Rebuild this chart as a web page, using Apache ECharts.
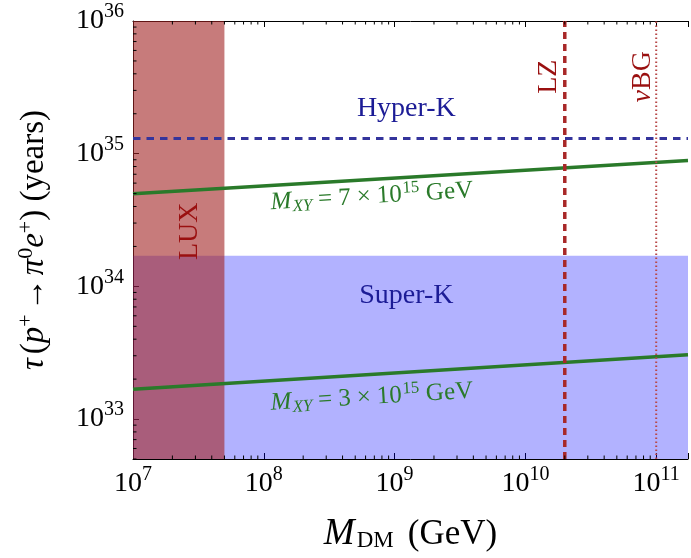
<!DOCTYPE html>
<html><head><meta charset="utf-8">
<script src="https://cdn.jsdelivr.net/npm/echarts@6/dist/echarts.min.js"></script>
<style>html,body{margin:0;padding:0;background:#fff}#c{width:691px;height:558px}</style>
</head><body><div id="c"></div>
<script>
// ---- data ----
const xMin = 1e7, xMax = 1.75e11;      // M_DM axis range (GeV)
const yMin = 5e32, yMax = 1e36;        // tau axis range (years)
const massDM = [1e7, 1.75e11];
const tauMXY7 = [5.0e34, 8.9e34];      // M_XY = 7e15 GeV
const tauMXY3 = [1.68e33, 3.05e33];    // M_XY = 3e15 GeV
const hyperK = 1.3e35;
const superK = 1.7e34;
const luxLimit = 5e7;
const lzLimit = 2e10;
const nuBGLimit = 1e11;
const xDecades = [7, 8, 9, 10, 11];
const yDecades = [32, 33, 34, 35];
const minorMult = [2, 3, 4, 5, 6, 7, 8, 9];

const xMinor = [];
xDecades.forEach(e => minorMult.forEach(m => { const v = m * Math.pow(10, e); if (v > xMin && v < xMax) xMinor.push(v); }));
const yMinor = [];
yDecades.forEach(e => minorMult.forEach(m => { const v = m * Math.pow(10, e); if (v > yMin && v < yMax) yMinor.push(v); }));

const F = 'Liberation Serif';
function powLabel(v) {
  const e = Math.log10(v), r = Math.round(e);
  if (Math.abs(e - r) > 1e-6) return '';
  return '{b|10}{s|' + r + '}';
}
const tickRich = {
  b: { fontFamily: F, fontSize: 28, color: '#000' },
  s: { fontFamily: F, fontSize: 20, color: '#000', padding: [0, 0, 18, 0] }
};
const GREEN = '#2a7a2a', NAVY = '#1c1c96', DRED = '#9a1010';

function label(pos, fmt, color, size, rotate, rich) {
  return { value: pos, label: { show: true, position: 'inside', formatter: fmt, color: color, opacity: 1,
    fontFamily: F, fontSize: size, rotate: rotate || 0, rich: rich || {} } };
}
const greenRich = {
  i: { fontFamily: F, fontSize: 25, fontStyle: 'italic', color: GREEN },
  sub: { fontFamily: F, fontSize: 17, fontStyle: 'italic', color: GREEN, padding: [11, 0, 0, 1] },
  op: { fontFamily: F, fontSize: 25, color: GREEN, padding: [0, 6, 0, 6] },
  r: { fontFamily: F, fontSize: 25, color: GREEN },
  sup: { fontFamily: F, fontSize: 17, color: GREEN, padding: [0, 0, 13, 1] }
};
const italRich = c => ({ i: { fontFamily: F, fontSize: 28, fontStyle: 'italic', color: c } });

const chart = echarts.init(document.getElementById('c'));
chart.setOption({
  animation: false,
  grid: { left: 133, right: 0, top: 21, bottom: 98 },
  xAxis: [{
    type: 'log', min: xMin, max: xMax, position: 'bottom',
    axisLine: { show: true, lineStyle: { color: '#000', width: 1 } },
    axisTick: { show: true, inside: true, length: 6, lineStyle: { color: '#000' } },
    axisLabel: { formatter: powLabel, rich: tickRich, margin: 6 },
    splitLine: { show: false },
    name: '{i|M}{sub|DM}(GeV)', nameLocation: 'middle', nameGap: 57,
    nameTextStyle: { fontFamily: F, fontSize: 35, color: '#000', rich: {
      i: { fontFamily: F, fontSize: 37, fontStyle: 'italic', color: '#000' },
      sub: { fontFamily: F, fontSize: 23, color: '#000', padding: [13, 14, 0, 2] } } }
  }, {
    type: 'log', min: xMin, max: xMax, position: 'top',
    axisLine: { show: true, lineStyle: { color: '#000', width: 1 } },
    axisTick: { show: true, inside: true, length: 6, lineStyle: { color: '#000' } },
    axisLabel: { show: false }, splitLine: { show: false }
  }],
  yAxis: {
    type: 'log', min: yMin, max: yMax,
    axisLine: { show: true, lineStyle: { color: '#000', width: 1 } },
    axisTick: { show: true, inside: true, length: 6, lineStyle: { color: '#000' } },
    axisLabel: { formatter: powLabel, rich: tickRich, margin: 9 },
    splitLine: { show: false },
    name: '{t|τ}({i|p}{sup|+}{ar|→}{i|π}{sup|0}{i|e}{sup|+}) (years)',
    nameLocation: 'middle', nameRotate: 90, nameGap: 80,
    nameTextStyle: { fontFamily: F, fontSize: 33, color: '#000', rich: {
      t: { fontFamily: F, fontSize: 33, fontStyle: 'italic', color: '#000', padding: [0, 4, 0, 0] },
      i: { fontFamily: F, fontSize: 33, fontStyle: 'italic', color: '#000' },
      ar: { fontFamily: F, fontSize: 33, color: '#000', padding: [0, 3, 0, 3] },
      sup: { fontFamily: F, fontSize: 22, color: '#000', padding: [0, 0, 16, 0] } } }
  },
  series: [
    { type: 'line', name: 'Super-K', silent: true, symbol: 'none', z: 1,
      data: [[xMin, superK], [xMax, superK]],
      lineStyle: { width: 0 }, areaStyle: { origin: 'start', color: 'rgba(0,0,255,0.3)', opacity: 1 } },
    { type: 'line', name: 'LUX', silent: true, symbol: 'none', z: 1,
      data: [[xMin, yMax], [luxLimit, yMax]],
      lineStyle: { width: 0 }, areaStyle: { origin: 'start', color: 'rgba(162,35,35,0.6)', opacity: 1 } },
    { type: 'line', name: 'MXY7', silent: true, symbol: 'none', z: 3,
      data: massDM.map((m, i) => [m, tauMXY7[i]]),
      lineStyle: { color: GREEN, width: 3.5 } },
    { type: 'line', name: 'MXY3', silent: true, symbol: 'none', z: 3,
      data: massDM.map((m, i) => [m, tauMXY3[i]]),
      lineStyle: { color: GREEN, width: 3.5 } },
    { type: 'line', name: 'Hyper-K', silent: true, symbol: 'none', z: 3,
      data: [[xMin, hyperK], [xMax, hyperK]],
      lineStyle: { color: '#34349c', width: 3, type: [7.5, 6] } },
    { type: 'line', name: 'LZ', silent: true, symbol: 'none', z: 3,
      data: [[lzLimit, yMin], [lzLimit, yMax]],
      lineStyle: { color: '#a82828', width: 3.5, type: [7, 5] } },
    { type: 'line', name: 'nuBG', silent: true, symbol: 'none', z: 3,
      data: [[nuBGLimit, yMin], [nuBGLimit, yMax]],
      lineStyle: { color: '#b84848', width: 2, type: [1.5, 2.5] } },
    { type: 'custom', name: 'xMinorTicks', silent: true, z: 5,
      data: xMinor.map(v => [v, yMin]),
      renderItem: function (params, api) {
        const x = api.coord([api.value(0), yMin])[0];
        const cs = params.coordSys;
        const st = { stroke: '#000', lineWidth: 1 };
        return { type: 'group', children: [
          { type: 'line', shape: { x1: x, y1: cs.y + cs.height, x2: x, y2: cs.y + cs.height - 3.5 }, style: st },
          { type: 'line', shape: { x1: x, y1: cs.y, x2: x, y2: cs.y + 3.5 }, style: st } ] };
      } },
    { type: 'custom', name: 'yMinorTicks', silent: true, z: 5,
      data: yMinor.map(v => [xMin, v]),
      renderItem: function (params, api) {
        const y = api.coord([xMin, api.value(1)])[1];
        const cs = params.coordSys;
        return { type: 'line', shape: { x1: cs.x, y1: y, x2: cs.x + 3.5, y2: y }, style: { stroke: '#000', lineWidth: 1 } };
      } },
    { type: 'scatter', name: 'labels', silent: true, symbolSize: 0, z: 10,
      itemStyle: { opacity: 1, color: 'rgba(0,0,0,0)' },
      data: [
        label([1.23e9, 2.2e35], 'Hyper-K', NAVY, 28),
        label([1.23e9, 8.5e33], 'Super-K', NAVY, 28),
        label([2.7e7, 2.6e34], 'LUX', DRED, 28, 90),
        label([1.5e10, 3.8e35], 'LZ', DRED, 28, 90),
        label([7.9e10, 3.8e35], '{i|ν}BG', DRED, 28, 90, italRich(DRED)),
        label([6.7e8, 4.75e34], '{i|M}{sub|XY}{op|=}{r|7}{op|×}{r|10}{sup|15}{r| GeV}', GREEN, 25, 3.4, greenRich),
        label([6.7e8, 1.46e33], '{i|M}{sub|XY}{op|=}{r|3}{op|×}{r|10}{sup|15}{r| GeV}', GREEN, 25, 3.4, greenRich)
      ] }
  ]
});
</script></body></html>
